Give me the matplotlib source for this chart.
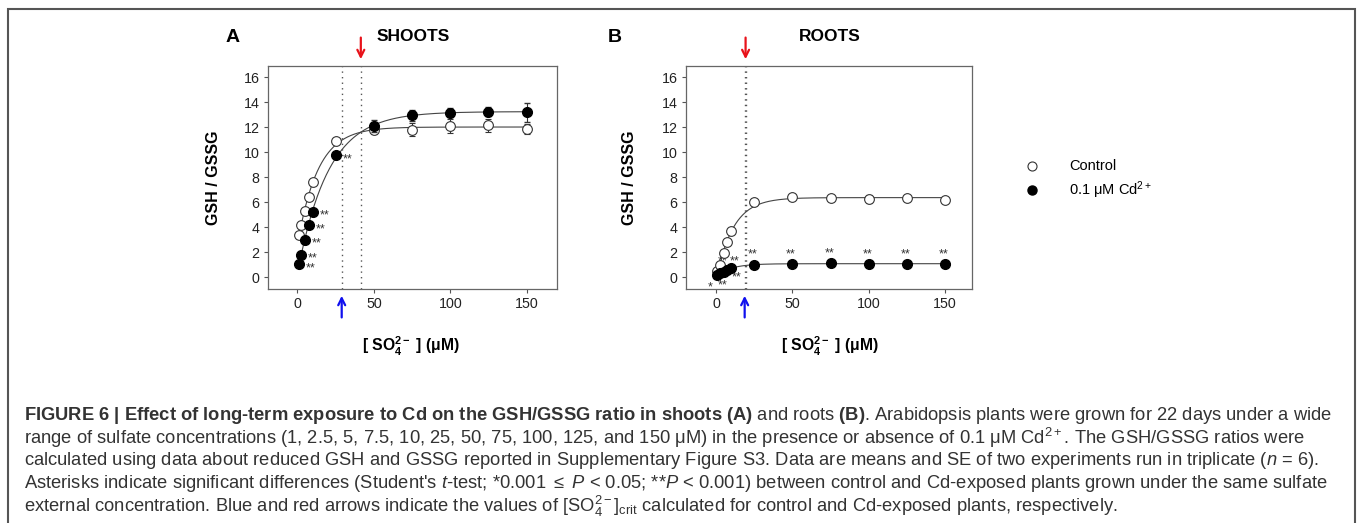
import numpy as np
import matplotlib
matplotlib.use("Agg")
import matplotlib.pyplot as plt
from matplotlib.patches import Rectangle

plt.rcParams['font.family'] = ['Liberation Sans', 'DejaVu Sans']
plt.rcParams['mathtext.fontset'] = 'custom'
plt.rcParams['mathtext.rm'] = 'Liberation Sans'
plt.rcParams['mathtext.it'] = 'Liberation Sans:italic'
plt.rcParams['mathtext.bf'] = 'Liberation Sans:bold'

# sulfate concentrations (uM)
sulfate = [1, 2.5, 5, 7.5, 10, 25, 50, 75, 100, 125, 150]

# shoots
shoot_ctrl = [3.4, 4.15, 5.3, 6.45, 7.6, 10.9, 11.75, 11.8, 12.1, 12.15, 11.85]
shoot_ctrl_se = [0.1, 0.1, 0.1, 0.1, 0.15, 0.15, 0.3, 0.5, 0.55, 0.5, 0.4]
shoot_cd = [1.05, 1.8, 3.0, 4.15, 5.25, 9.75, 12.1, 12.95, 13.15, 13.25, 13.2]
shoot_cd_se = [0.1, 0.1, 0.1, 0.1, 0.1, 0.15, 0.45, 0.45, 0.35, 0.35, 0.75]
shoot_stars = ['**', '**', '**', '**', '**', '**', '', '', '', '', '']

# roots
root_ctrl = [0.5, 0.95, 1.9, 2.8, 3.7, 6.0, 6.45, 6.35, 6.25, 6.35, 6.15]
root_ctrl_se = [0.05, 0.05, 0.1, 0.1, 0.1, 0.2, 0.2, 0.15, 0.3, 0.15, 0.25]
root_cd = [0.2, 0.3, 0.45, 0.6, 0.75, 1.0, 1.05, 1.1, 1.07, 1.07, 1.07]
root_cd_se = [0.03, 0.03, 0.04, 0.05, 0.05, 0.05, 0.05, 0.05, 0.05, 0.05, 0.05]
root_stars = ['*', '**', '**', '**', '**', '**', '**', '**', '**', '**', '**']

# critical sulfate concentrations (control, Cd)
shoot_crit = [29.0, 41.5]
root_crit = [18.8, 19.4]

yticks = [0, 2, 4, 6, 8, 10, 12, 14, 16]
xticks = [0, 50, 100, 150]


def fit_curve(x, y):
    # y = a - b*exp(-k x), k by grid search, a and b by least squares
    x = np.asarray(x, float)
    y = np.asarray(y, float)
    best = None
    for k in np.logspace(-3, 0, 600):
        A = np.column_stack([np.ones_like(x), -np.exp(-k * x)])
        coef, res, _, _ = np.linalg.lstsq(A, y, rcond=None)
        err = np.sum((A @ coef - y) ** 2)
        if best is None or err < best[0]:
            best = (err, coef, k)
    _, (a, b), k = best
    xs = np.linspace(x.min(), x.max(), 300)
    return xs, a - b * np.exp(-k * xs)


W, H = 1358, 523
fig = plt.figure(figsize=(W / 100, H / 100), dpi=100)
fig.add_artist(Rectangle((8 / W, -0.05), 1347 / W, 1 - 9 / H + 0.05,
                         transform=fig.transFigure, fill=False,
                         edgecolor='#555555', linewidth=1.5))

axA = fig.add_axes([268 / W, 1 - 289 / H, 289 / W, 223 / H])
axB = fig.add_axes([686 / W, 1 - 289 / H, 286 / W, 223 / H])

panels = [
    (axA, shoot_ctrl, shoot_ctrl_se, shoot_cd, shoot_cd_se, shoot_crit, (-19.2, 169.8)),
    (axB, root_ctrl, root_ctrl_se, root_cd, root_cd_se, root_crit, (-19.6, 167.6)),
]

for ax, ctrl, ctrl_se, cd, cd_se, crit, xlim in panels:
    for yv in (ctrl, cd):
        xs, ys = fit_curve(sulfate, yv)
        ax.plot(xs, ys, color='#444444', lw=0.8, zorder=1)
    ax.errorbar(sulfate, ctrl, yerr=ctrl_se, fmt='o', ms=7, mfc='white',
                mec='#333333', mew=0.8, ecolor='#333333', elinewidth=0.8,
                capsize=2.5, zorder=3)
    ax.errorbar(sulfate, cd, yerr=cd_se, fmt='o', ms=7, mfc='black',
                mec='black', ecolor='#333333', elinewidth=0.8,
                capsize=2.5, zorder=4)
    for c in crit:
        ax.axvline(c, color='#555555', lw=1.0, ls=(0, (1, 3)), zorder=0)
    ax.annotate('', xy=(crit[1], 1.018), xycoords=('data', 'axes fraction'),
                xytext=(crit[1], 1.14), textcoords=('data', 'axes fraction'),
                arrowprops=dict(arrowstyle='->,head_length=0.5,head_width=0.25',
                                color='#e8121a', lw=1.6), annotation_clip=False)
    ax.annotate('', xy=(crit[0], -0.018), xycoords=('data', 'axes fraction'),
                xytext=(crit[0], -0.14), textcoords=('data', 'axes fraction'),
                arrowprops=dict(arrowstyle='->,head_length=0.5,head_width=0.25',
                                color='#1010ee', lw=1.6), annotation_clip=False)
    ax.set_xlim(*xlim)
    ax.set_ylim(-0.95, 16.9)
    ax.set_xticks(xticks)
    ax.set_yticks(yticks)
    ax.tick_params(direction='out', length=3, width=0.8, color='#555555',
                   labelsize=10.3, labelcolor='#222222', pad=3)
    for s in ax.spines.values():
        s.set_color('#666666')
        s.set_linewidth(0.9)

# significance marks
for x, y, s in zip(sulfate, shoot_cd, shoot_stars):
    if s:
        axA.annotate(s, (x, y), xytext=(5, -3), textcoords='offset points',
                     fontsize=9, color='#333333', va='center')

root_offsets = [(-5, -9), (2, -9), (-1, 7), (5, 6), (4, -7), (-1, 7),
                (-1, 7), (-1, 7), (-1, 7), (-1, 7), (-1, 7)]
for x, y, s, off in zip(sulfate, root_cd, root_stars, root_offsets):
    axB.annotate(s, (x, y), xytext=off, textcoords='offset points',
                 fontsize=9, color='#333333', ha='center', va='center')

# panel titles and labels
fig.text(233 / W, 1 - 38 / H, 'A', fontsize=14, fontweight='bold', ha='center', va='center')
fig.text(413 / W, 1 - 36 / H, 'SHOOTS', fontsize=12.5, fontweight='bold', ha='center', va='center')
fig.text(615 / W, 1 - 38 / H, 'B', fontsize=14, fontweight='bold', ha='center', va='center')
fig.text(830 / W, 1 - 36 / H, 'ROOTS', fontsize=12.5, fontweight='bold', ha='center', va='center')

for xc in (213, 630):
    fig.text(xc / W, 1 - 178 / H, 'GSH / GSSG', fontsize=11.5, fontweight='bold',
             rotation=90, ha='center', va='center')
for xc in (411, 830):
    fig.text(xc / W, 1 - 346 / H, r'[ SO$_\mathbf{4}^\mathbf{2-}$ ] (μM)', fontsize=11.3,
             fontweight='bold', ha='center', va='center')

# legend
fig.lines.append(plt.Line2D([1032 / W], [1 - 166 / H], marker='o', ms=6.5, mfc='white',
                            mec='#333333', mew=0.8, ls='none', transform=fig.transFigure))
fig.lines.append(plt.Line2D([1032 / W], [1 - 190 / H], marker='o', ms=6.5, mfc='black',
                            mec='black', ls='none', transform=fig.transFigure))
fig.text(1069 / W, 1 - 166 / H, 'Control', fontsize=10.5, va='center')
fig.text(1069 / W, 1 - 190 / H, r'0.1 μM Cd$^{2+}$', fontsize=10.5, va='center')

# caption
caption = [
    r'$\mathbf{FIGURE\ 6\ |\ Effect\ of\ long‐term\ exposure\ to\ Cd\ on\ the\ GSH/GSSG\ ratio\ in\ shoots\ (A)}$'
    r' and roots $\mathbf{(B)}$. Arabidopsis plants were grown for 22 days under a wide',
    r'range of sulfate concentrations (1, 2.5, 5, 7.5, 10, 25, 50, 75, 100, 125, and 150 μM) in the presence or absence of 0.1 μM Cd$^{2+}$. The GSH/GSSG ratios were',
    r'calculated using data about reduced GSH and GSSG reported in Supplementary Figure S3. Data are means and SE of two experiments run in triplicate ($n$ = 6).',
    r"Asterisks indicate significant differences (Student's $t$-test; *0.001 $\leq$ $P$ < 0.05; **$P$ < 0.001) between control and Cd-exposed plants grown under the same sulfate",
    r'external concentration. Blue and red arrows indicate the values of [SO$_4^{2-}]_{\mathrm{crit}}$ calculated for control and Cd-exposed plants, respectively.',
]
for i, line in enumerate(caption):
    fig.text(24 / W, 1 - (415 + 22.8 * i) / H, line, fontsize=13.2, color='#333333',
             va='center', ha='left')

fig.savefig('out.png', dpi=100)
